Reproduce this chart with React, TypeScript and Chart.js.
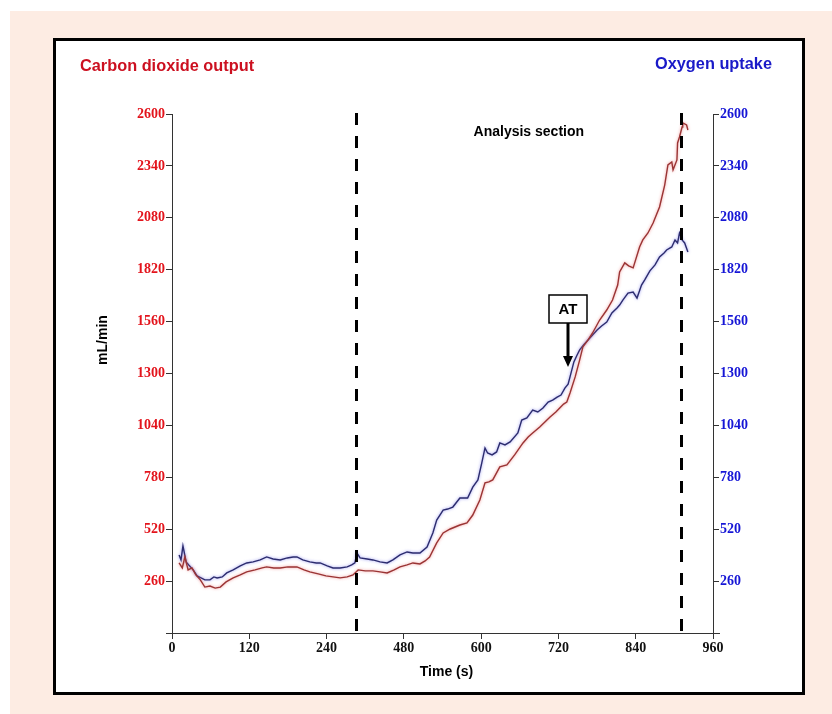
import React, { useEffect, useRef } from "react";
import { Chart, registerables } from "chart.js";

Chart.register(...registerables);

// ---- data ----
const xTickLabels = ["0", "120", "240", "480", "600", "720", "840", "960"];
const yMax = 2600;
const yStep = 260;

const o2Time = [11, 14, 17, 22, 26, 33, 39, 45, 51, 59, 65, 70, 78, 85, 95, 106, 116, 126, 137, 147, 157, 168, 179, 188, 194, 203, 214, 224, 230, 241, 250, 261, 272, 279, 284, 287, 292, 303, 312, 323, 334, 343, 354, 365, 374, 385, 396, 405, 411, 421, 428, 436, 447, 459, 467, 475, 481, 486, 490, 497, 504, 509, 517, 525, 537, 543, 551, 560, 568, 576, 584, 591, 598, 604, 610, 615, 618, 624, 629, 633, 639, 646, 653, 660, 667, 675, 683, 691, 695, 700, 708, 716, 722, 729, 734, 742, 750, 757, 764, 768, 776, 781, 785, 788, 792, 796, 801];
const o2Values = [391, 366, 436, 356, 341, 316, 286, 276, 266, 266, 281, 276, 281, 301, 316, 336, 351, 356, 366, 381, 371, 366, 376, 381, 381, 366, 356, 351, 351, 336, 326, 326, 331, 341, 351, 401, 376, 371, 366, 356, 351, 366, 391, 406, 401, 401, 431, 501, 566, 616, 621, 631, 676, 676, 731, 767, 852, 927, 902, 892, 907, 952, 942, 957, 1002, 1067, 1077, 1117, 1107, 1127, 1157, 1167, 1182, 1192, 1227, 1247, 1283, 1358, 1393, 1418, 1443, 1468, 1493, 1518, 1538, 1558, 1603, 1628, 1643, 1668, 1703, 1708, 1678, 1743, 1769, 1814, 1844, 1884, 1904, 1919, 1934, 1969, 1954, 2004, 1969, 1954, 1909];

const co2Time = [11, 16, 20, 25, 31, 37, 44, 51, 59, 67, 75, 84, 95, 106, 116, 129, 140, 147, 158, 168, 180, 194, 205, 214, 227, 239, 250, 261, 272, 281, 289, 300, 312, 323, 334, 345, 354, 365, 374, 385, 393, 400, 411, 421, 432, 447, 458, 467, 478, 486, 492, 498, 509, 520, 532, 545, 553, 560, 571, 579, 587, 596, 602, 608, 613, 618, 626, 633, 638, 646, 653, 664, 675, 684, 692, 695, 703, 709, 716, 726, 731, 739, 747, 757, 765, 770, 776, 778, 784, 785, 788, 792, 793, 799, 801];
const co2Values = [351, 326, 381, 316, 326, 291, 266, 230, 235, 225, 230, 256, 276, 291, 306, 316, 326, 331, 326, 326, 331, 331, 316, 306, 296, 286, 281, 276, 281, 291, 316, 311, 311, 306, 301, 316, 331, 341, 351, 346, 361, 381, 451, 501, 521, 541, 551, 591, 666, 752, 757, 767, 832, 842, 892, 952, 982, 1002, 1032, 1057, 1082, 1107, 1127, 1147, 1157, 1202, 1283, 1368, 1433, 1468, 1503, 1568, 1618, 1668, 1743, 1809, 1854, 1839, 1829, 1934, 1969, 2004, 2054, 2134, 2244, 2345, 2360, 2320, 2370, 2455, 2485, 2535, 2555, 2545, 2520];

const analysisBounds = [286, 790];
const analysisLabel = { x: 554, y: 2510, text: "Analysis section" };
const atMarker = { x: 615, y: 1333, top: 1553, text: "AT" };

const leftTitle = "Carbon dioxide output";
const rightTitle = "Oxygen uptake";
const yTitle = "mL/min";
const xTitle = "Time (s)";

// ---- styles ----
const RED = "#e3141c";
const BLUE = "#1616d6";
const tickFont = { family: '"Liberation Serif", "Times New Roman", serif', size: 14, weight: "bold" as const };
const SANS = '"Liberation Sans", Arial, sans-serif';

const glowPlugin = {
  id: "glow",
  beforeDatasetDraw(chart: any, args: any) {
    const ctx = chart.ctx;
    ctx.save();
    ctx.shadowColor = args.index === 0 ? "rgba(235,110,110,0.75)" : "rgba(110,110,235,0.75)";
    ctx.shadowBlur = 3;
  },
  afterDatasetDraw(chart: any) {
    chart.ctx.restore();
  },
};

function narrowText(ctx: CanvasRenderingContext2D, text: string, x: number, y: number, align: "left" | "right") {
  const sx = 0.96;
  ctx.save();
  ctx.translate(x, y);
  ctx.scale(sx, 1);
  ctx.textAlign = align;
  ctx.fillText(text, 0, 0);
  ctx.restore();
}

const overlayPlugin = {
  id: "overlay",
  afterDatasetsDraw(chart: any) {
    const { ctx, chartArea, scales } = chart;
    const xs = scales.x;
    const ys = scales.y;
    ctx.save();
    // dashed analysis bounds
    ctx.setLineDash([12, 11]);
    ctx.lineWidth = 3;
    ctx.strokeStyle = "#000";
    for (const t of analysisBounds) {
      const px = Math.round(xs.getPixelForValue(t)) + 0.5;
      ctx.beginPath();
      ctx.moveTo(px, chartArea.top - 1);
      ctx.lineTo(px, chartArea.bottom);
      ctx.stroke();
    }
    ctx.setLineDash([]);

    // Analysis section label
    ctx.fillStyle = "#000";
    ctx.font = `bold 14px ${SANS}`;
    ctx.textAlign = "center";
    ctx.textBaseline = "middle";
    ctx.fillText(analysisLabel.text, xs.getPixelForValue(analysisLabel.x), ys.getPixelForValue(analysisLabel.y));

    // AT marker
    const ax = Math.round(xs.getPixelForValue(atMarker.x));
    const tipY = ys.getPixelForValue(atMarker.y);
    const boxBottom = ys.getPixelForValue(atMarker.top);
    const bw = 38, bh = 28;
    ctx.fillStyle = "#fff";
    ctx.fillRect(ax - bw / 2, boxBottom - bh, bw, bh);
    ctx.lineWidth = 1.5;
    ctx.strokeStyle = "#000";
    ctx.strokeRect(ax - bw / 2, boxBottom - bh, bw, bh);
    ctx.fillStyle = "#000";
    ctx.font = `bold 15px ${SANS}`;
    ctx.fillText(atMarker.text, ax, boxBottom - bh / 2 + 1);
    ctx.lineWidth = 3;
    ctx.beginPath();
    ctx.moveTo(ax, boxBottom);
    ctx.lineTo(ax, tipY - 9);
    ctx.stroke();
    ctx.beginPath();
    ctx.moveTo(ax - 5, tipY - 11);
    ctx.lineTo(ax + 5, tipY - 11);
    ctx.lineTo(ax, tipY);
    ctx.closePath();
    ctx.fill();

    // x axis line slight overhang like the reference
    ctx.lineWidth = 1;
    ctx.strokeStyle = "#333";
    const by = Math.round(chartArea.bottom) + 0.5;
    ctx.beginPath();
    ctx.moveTo(chartArea.left - 4, by);
    ctx.lineTo(chartArea.right + 7, by);
    ctx.stroke();
    ctx.restore();
  },
  afterDraw(chart: any) {
    const { ctx, chartArea } = chart;
    ctx.save();
    ctx.textBaseline = "middle";
    ctx.font = `bold 17px ${SANS}`;
    ctx.fillStyle = "#cc1020";
    narrowText(ctx, leftTitle, 24, 25, "left");
    ctx.fillStyle = "#1a1ac8";
    narrowText(ctx, rightTitle, 716, 23, "right");

    ctx.fillStyle = "#000";
    ctx.font = `bold 14px ${SANS}`;
    ctx.textAlign = "center";
    ctx.fillText(xTitle, (chartArea.left + chartArea.right) / 2 + 4, 631);
    ctx.translate(47, 299);
    ctx.rotate(-Math.PI / 2);
    ctx.fillText(yTitle, 0, 0);
    ctx.restore();
  },
};

export default function App() {
  const ref = useRef<HTMLCanvasElement | null>(null);

  useEffect(() => {
    if (!ref.current) return;
    const axisGrid = { drawOnChartArea: false, drawTicks: true, tickLength: 6, color: "#333", lineWidth: 1 };
    const axisBorder = { display: true, color: "#333", width: 1 };
    const chart = new Chart(ref.current, {
      type: "line",
      data: {
        datasets: [
          {
            label: "Carbon dioxide output",
            data: co2Time.map((t, i) => ({ x: t, y: co2Values[i] })),
            yAxisID: "y",
            borderColor: "#9a3434",
            borderWidth: 1.4,
            pointRadius: 0,
            tension: 0,
            fill: false,
          },
          {
            label: "Oxygen uptake",
            data: o2Time.map((t, i) => ({ x: t, y: o2Values[i] })),
            yAxisID: "y1",
            borderColor: "#2c2c6e",
            borderWidth: 1.4,
            pointRadius: 0,
            tension: 0,
            fill: false,
          },
        ],
      },
      options: {
        responsive: false,
        animation: false,
        events: [],
        layout: { padding: { top: 73, left: 0, right: 0, bottom: 0 } },
        plugins: { legend: { display: false }, tooltip: { enabled: false } },
        scales: {
          x: {
            type: "linear",
            min: 0,
            max: 840,
            ticks: {
              stepSize: 120,
              autoSkip: false,
              maxRotation: 0,
              padding: 1,
              color: "#111",
              font: tickFont,
              callback: (_v: any, i: number) => xTickLabels[i] ?? "",
            },
            grid: axisGrid,
            border: axisBorder,
            afterFit: (s: any) => { s.height = 59; },
          },
          y: {
            position: "left",
            min: 0,
            max: yMax,
            ticks: {
              stepSize: yStep,
              padding: 1,
              color: RED,
              font: tickFont,
              callback: (v: any) => (v === 0 ? "" : String(v)),
            },
            grid: axisGrid,
            border: axisBorder,
            afterFit: (s: any) => { s.width = 116; },
          },
          y1: {
            position: "right",
            min: 0,
            max: yMax,
            ticks: {
              stepSize: yStep,
              padding: 1,
              color: BLUE,
              font: tickFont,
              callback: (v: any) => (v === 0 ? "" : String(v)),
            },
            grid: axisGrid,
            border: axisBorder,
            afterFit: (s: any) => { s.width = 89; },
          },
        },
      } as any,
      plugins: [glowPlugin, overlayPlugin],
    });
    return () => chart.destroy();
  }, []);

  return (
    <div style={{ position: "absolute", left: 0, top: 0, width: 832, height: 714, background: "#fff", overflow: "hidden" }}>
      <div style={{ position: "absolute", left: 10, top: 11, width: 822, height: 703, background: "#fdece3" }} />
      <div
        style={{
          position: "absolute",
          left: 53,
          top: 38,
          width: 752,
          height: 657,
          boxSizing: "border-box",
          border: "3px solid #000",
          background: "#fff",
        }}
      />
      <canvas ref={ref} width={746} height={651} style={{ position: "absolute", left: 56, top: 41, width: 746, height: 651 }} />
    </div>
  );
}
